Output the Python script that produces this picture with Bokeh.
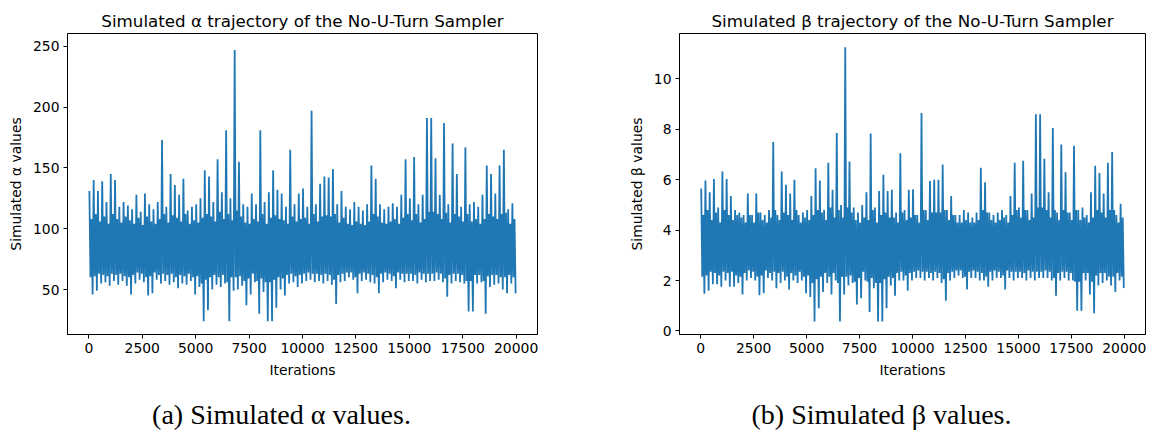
import numpy as np
from bokeh.plotting import figure
from bokeh.layouts import column, row
from bokeh.models import FixedTicker, Range1d, Label, ColumnDataSource
from bokeh.embed import file_html
from bokeh.resources import INLINE

# ---- data ----
# per 200-iteration block: highest and lowest draw
block_start = list(range(0, 20000, 200))

alpha_high = [131, 140, 131, 139, 122, 145, 140, 118, 122, 119,
              116, 128, 114, 129, 120, 116, 122, 173, 118, 145,
              136, 128, 141, 115, 118, 120, 125, 148, 143, 122,
              157, 130, 181, 125, 247, 155, 120, 118, 129, 120,
              181, 122, 130, 148, 132, 129, 118, 165, 120, 129,
              133, 118, 197, 120, 137, 143, 142, 149, 120, 131,
              118, 116, 122, 118, 115, 120, 152, 141, 120, 116,
              118, 121, 118, 128, 157, 125, 159, 120, 128, 191,
              191, 158, 128, 187, 120, 170, 145, 118, 167, 120,
              122, 118, 128, 152, 145, 129, 152, 165, 116, 121]

alpha_low = [46, 49, 55, 56, 53, 57, 54, 57, 53, 46,
             55, 58, 56, 45, 47, 58, 55, 57, 54, 56,
             51, 55, 54, 57, 46, 52, 24, 33, 50, 54,
             52, 55, 24, 49, 50, 53, 37, 46, 56, 30,
             48, 24, 24, 35, 50, 45, 55, 56, 52, 55,
             57, 58, 56, 57, 55, 57, 54, 38, 56, 57,
             60, 58, 47, 57, 58, 56, 55, 47, 56, 58,
             57, 51, 58, 56, 57, 57, 55, 58, 56, 57,
             57, 58, 56, 44, 55, 57, 56, 55, 32, 32,
             55, 56, 30, 52, 54, 55, 50, 47, 55, 47]

# per 200-iteration block: upper / lower edge of the dense core of the trace
alpha_core_high = [108, 112, 106, 110, 104, 112, 108, 105, 110, 107,
                   104, 109, 103, 110, 106, 104, 108, 112, 105, 111,
                   109, 106, 112, 104, 107, 105, 109, 112, 110, 106,
                   114, 108, 112, 107, 115, 110, 105, 104, 108, 106,
                   112, 104, 109, 111, 108, 107, 104, 110, 106, 108,
                   109, 104, 112, 106, 110, 111, 110, 112, 105, 109,
                   104, 103, 106, 104, 103, 106, 112, 110, 105, 104,
                   106, 108, 104, 109, 112, 107, 112, 105, 108, 114,
                   114, 112, 108, 113, 105, 112, 110, 106, 112, 106,
                   108, 104, 108, 112, 110, 108, 112, 113, 104, 108]

alpha_core_low = [60, 61, 63, 62, 61, 63, 62, 63, 61, 60,
                  62, 64, 63, 60, 61, 64, 62, 63, 62, 63,
                  60, 62, 61, 63, 60, 61, 55, 58, 60, 62,
                  60, 62, 56, 60, 60, 61, 57, 59, 63, 57,
                  59, 56, 56, 58, 60, 59, 62, 63, 61, 62,
                  63, 64, 63, 63, 62, 63, 62, 58, 62, 63,
                  64, 64, 60, 63, 64, 63, 62, 60, 63, 64,
                  63, 61, 64, 63, 63, 63, 62, 64, 63, 63,
                  63, 64, 63, 59, 62, 63, 63, 62, 57, 57,
                  62, 62, 57, 61, 62, 62, 60, 60, 62, 60]

beta_high = [5.65, 5.97, 5.5, 6.03, 4.9, 6.33, 6.03, 5.35, 4.8, 4.7,
             4.6, 5.45, 4.6, 5.45, 4.7, 4.6, 4.8, 7.5, 4.6, 6.33,
             5.8, 5.45, 6.0, 4.6, 4.7, 4.8, 5.35, 6.45, 5.97, 4.8,
             6.67, 5.6, 7.85, 5.0, 11.25, 6.72, 4.9, 4.7, 5.0, 5.5,
             7.83, 4.9, 5.55, 6.2, 5.55, 5.6, 4.7, 7.05, 4.8, 5.6,
             5.62, 4.6, 8.65, 4.8, 5.95, 6.0, 6.0, 6.6, 4.8, 5.35,
             4.6, 4.6, 4.8, 4.7, 4.5, 4.7, 6.47, 5.9, 4.7, 4.6,
             4.7, 4.8, 4.6, 5.35, 6.67, 4.9, 6.75, 4.8, 5.45, 8.6,
             8.6, 6.83, 5.5, 8.05, 4.7, 7.4, 6.3, 4.7, 7.35, 4.8,
             4.9, 4.6, 5.5, 6.55, 6.27, 5.45, 6.67, 7.1, 4.6, 5.05]

beta_low = [1.48, 1.6, 1.85, 1.85, 1.75, 2.0, 1.75, 1.75, 1.9, 1.45,
            2.0, 2.1, 2.0, 1.42, 1.5, 2.1, 2.0, 1.7, 1.9, 2.0,
            1.65, 2.0, 1.9, 2.0, 1.5, 1.35, 0.38, 0.9, 1.55, 1.9,
            1.45, 2.0, 0.38, 1.45, 1.8, 1.9, 1.05, 1.3, 2.0, 0.75,
            1.7, 0.38, 0.38, 0.9, 1.8, 1.4, 2.0, 2.0, 1.6, 2.0,
            2.1, 2.1, 2.0, 2.1, 2.0, 2.1, 1.9, 1.2, 2.0, 2.1,
            2.2, 2.1, 1.65, 2.1, 2.1, 2.0, 2.0, 1.75, 2.0, 2.1,
            2.1, 1.65, 2.1, 2.0, 2.1, 2.1, 2.0, 2.1, 2.0, 2.1,
            2.1, 2.1, 2.0, 1.4, 2.0, 2.1, 2.0, 2.0, 0.8, 0.8,
            2.0, 1.45, 0.7, 1.8, 1.9, 2.0, 1.8, 1.55, 2.0, 1.7]

beta_core_high = [4.6, 4.8, 4.4, 4.7, 4.3, 4.8, 4.6, 4.4, 4.6, 4.5,
                  4.3, 4.6, 4.3, 4.7, 4.4, 4.3, 4.5, 4.8, 4.4, 4.7,
                  4.6, 4.4, 4.8, 4.3, 4.5, 4.4, 4.6, 4.8, 4.7, 4.4,
                  4.9, 4.5, 4.8, 4.5, 4.9, 4.7, 4.4, 4.3, 4.5, 4.4,
                  4.8, 4.3, 4.6, 4.7, 4.5, 4.5, 4.3, 4.7, 4.4, 4.5,
                  4.6, 4.3, 4.8, 4.4, 4.7, 4.7, 4.7, 4.8, 4.4, 4.6,
                  4.3, 4.3, 4.4, 4.3, 4.3, 4.4, 4.8, 4.7, 4.4, 4.3,
                  4.4, 4.5, 4.3, 4.6, 4.8, 4.5, 4.8, 4.4, 4.5, 4.9,
                  4.9, 4.8, 4.5, 4.8, 4.4, 4.8, 4.7, 4.4, 4.8, 4.4,
                  4.5, 4.3, 4.5, 4.8, 4.7, 4.5, 4.8, 4.8, 4.3, 4.5]

beta_core_low = [2.15, 2.2, 2.35, 2.3, 2.2, 2.35, 2.3, 2.35, 2.2, 2.15,
                 2.3, 2.4, 2.35, 2.15, 2.2, 2.4, 2.3, 2.35, 2.3, 2.35,
                 2.15, 2.3, 2.2, 2.35, 2.15, 2.2, 1.9, 2.05, 2.15, 2.3,
                 2.15, 2.3, 1.9, 2.15, 2.15, 2.2, 1.95, 2.1, 2.35, 1.95,
                 2.1, 1.9, 1.9, 2.05, 2.15, 2.1, 2.3, 2.35, 2.2, 2.3,
                 2.35, 2.4, 2.35, 2.35, 2.3, 2.35, 2.3, 2.05, 2.3, 2.35,
                 2.4, 2.4, 2.15, 2.35, 2.4, 2.35, 2.3, 2.15, 2.35, 2.4,
                 2.35, 2.2, 2.4, 2.35, 2.35, 2.35, 2.3, 2.4, 2.35, 2.35,
                 2.35, 2.4, 2.35, 2.1, 2.3, 2.35, 2.35, 2.3, 1.95, 1.95,
                 2.3, 2.3, 1.95, 2.2, 2.3, 2.3, 2.15, 2.15, 2.3, 2.15]

x_ticks = [0, 2500, 5000, 7500, 10000, 12500, 15000, 17500, 20000]
alpha_ticks = [50, 100, 150, 200, 250]
beta_ticks = [0, 2, 4, 6, 8, 10]

titles = ["Simulated \u03b1 trajectory of the No-U-Turn Sampler",
          "Simulated \u03b2 trajectory of the No-U-Turn Sampler"]
ylabels = ["Simulated \u03b1 values", "Simulated \u03b2 values"]
captions = ["(a) Simulated \u03b1 values.", "(b) Simulated \u03b2 values."]

BLUE = "#1f77b4"
SANS = "DejaVu Sans"


def trace(high, low, core_high, core_low):
    xs, ys = [], []
    for s, h, l, ch, cl in zip(block_start, high, low, core_high, core_low):
        xs += [s + 25, s + 75, s + 125, s + 175]
        ys += [h, cl, ch, l]
    return ColumnDataSource(dict(x=xs, y=ys))


def panel(src, title, ylabel, yticks, yr, width, ml, mr):
    p = figure(width=width, height=380, output_backend="svg", toolbar_location=None,
               x_range=Range1d(-1000, 21000), y_range=Range1d(*yr),
               min_border_left=ml, min_border_right=mr, min_border_top=33,
               min_border_bottom=42)
    p.line("x", "y", source=src, line_color=BLUE, line_width=1.8)
    p.title.text = title
    p.title.align = "center"
    p.title.text_font = SANS
    p.title.text_font_size = "16.7px"
    p.title.text_font_style = "normal"
    p.title.text_color = "#000000"
    p.title.standoff = 6
    p.xgrid.visible = False
    p.ygrid.visible = False
    p.outline_line_color = "#000000"
    p.outline_line_alpha = 1.0
    p.outline_line_width = 1
    p.xaxis.ticker = FixedTicker(ticks=x_ticks)
    p.yaxis.ticker = FixedTicker(ticks=yticks)
    p.xaxis.axis_label = "Iterations"
    p.yaxis.axis_label = ylabel
    for ax in (p.xaxis[0], p.yaxis[0]):
        ax.axis_line_color = "#000000"
        ax.major_tick_line_color = "#000000"
        ax.major_tick_out = 4
        ax.major_tick_in = 0
        ax.minor_tick_line_color = None
        ax.major_label_text_font = SANS
        ax.major_label_text_font_size = "13.9px"
        ax.major_label_text_color = "#000000"
        ax.major_label_standoff = 4
        ax.axis_label_text_font = SANS
        ax.axis_label_text_font_size = "13.9px"
        ax.axis_label_text_font_style = "normal"
        ax.axis_label_text_color = "#000000"
        ax.axis_label_standoff = 6
    return p


p1 = panel(trace(alpha_high, alpha_low, alpha_core_high, alpha_core_low),
           titles[0], ylabels[0], alpha_ticks, (13, 260.5), 577, 67, 40)
p2 = panel(trace(beta_high, beta_low, beta_core_high, beta_core_low),
           titles[1], ylabels[1], beta_ticks, (-0.14, 11.8), 577, 102, 9)

cap = figure(width=1154, height=52, output_backend="svg", toolbar_location=None,
             x_range=Range1d(0, 1154), y_range=Range1d(0, 52),
             min_border=0)
cap.axis.visible = False
cap.grid.visible = False
cap.outline_line_color = None
for txt, cx in zip(captions, [281, 881]):
    cap.add_layout(Label(x=cx, y=18, text=txt, text_align="center",
                         text_baseline="middle", text_font="Liberation Serif",
                         text_font_size="28px", text_color="#000000"))

layout = column(row(p1, p2), cap)
open("out.html", "w").write(file_html(layout, INLINE))
